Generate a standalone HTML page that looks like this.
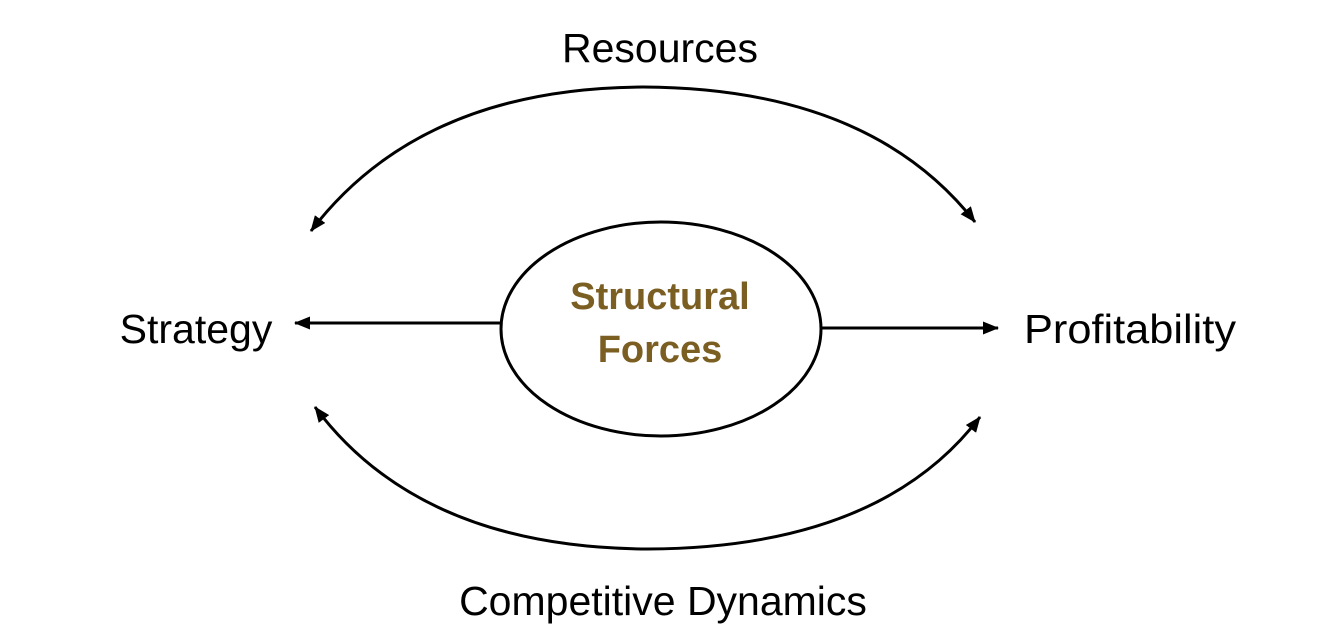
<!DOCTYPE html>
<html><head><meta charset="utf-8"><style>
html,body{margin:0;padding:0;background:#fff;}
svg{display:block;}
text{font-family:"Liberation Sans",sans-serif;}
</style></head><body>
<svg width="1334" height="635" viewBox="0 0 1334 635" xmlns="http://www.w3.org/2000/svg">
<defs>
<marker id="a" markerWidth="6" markerHeight="5" refX="5.5" refY="2.5" orient="auto" markerUnits="userSpaceOnUse" viewBox="0 0 6 5" style="overflow:visible">
<path d="M0,0 L6,2.5 L0,5 z" fill="#000"/>
</marker>
<marker id="b" markerWidth="16" markerHeight="13" refX="15" refY="6.5" orient="auto" markerUnits="userSpaceOnUse">
<path d="M0,0 L16,6.5 L0,13 z" fill="#000"/>
</marker>
</defs>
<g fill="none" stroke="#000" stroke-width="3">
<ellipse cx="661" cy="329" rx="160" ry="107"/>
<path d="M500,323 L295,323" marker-end="url(#b)"/>
<path d="M822,328 L998,328" marker-end="url(#b)"/>
<path d="M643,87 Q420,88 311,231" marker-end="url(#b)"/>
<path d="M643,87 Q870,88 975,222" marker-end="url(#b)"/>
<path d="M648,549 Q420,548 315,407" marker-end="url(#b)"/>
<path d="M648,549 Q880,548 980,417" marker-end="url(#b)"/>
</g>
<g font-size="41" fill="#000" text-anchor="middle">
<text x="660" y="62">Resources</text>
<text x="196" y="343">Strategy</text>
<text x="1130" y="343" textLength="212" lengthAdjust="spacingAndGlyphs">Profitability</text>
<text x="663" y="615">Competitive Dynamics</text>
</g>
<g font-size="38" font-weight="bold" fill="#7b5e22" text-anchor="middle">
<text x="660" y="309">Structural</text>
<text x="660" y="362">Forces</text>
</g>
</svg>
</body></html>
